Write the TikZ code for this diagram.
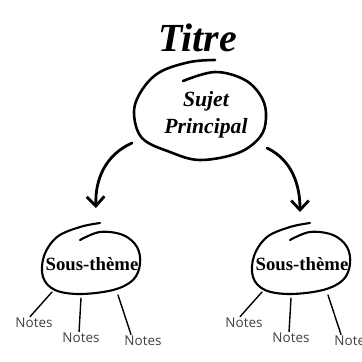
\documentclass[tikz,border=0pt]{standalone}
\usepackage{fontspec}
\setmainfont{Liberation Serif}
\newfontfamily\notesfont{Open Sans}
\usetikzlibrary{calc,arrows.meta}

\tikzset{
  trait/.style={line width=2pt,line cap=round,line join=round},
  fleche/.style={line width=2.4pt,line cap=round,
    -{Straight Barb[length=8pt,width=15pt]}},
  branche/.style={line width=1.2pt,line cap=round},
  note/.style={font=\notesfont\fontsize{11.5}{12}\selectfont,text=black!75,inner sep=0.5pt}
}

\begin{document}
\begin{tikzpicture}[x=0.03cm,y=-0.03cm]
          \fill[white] (0,0) rectangle (362,362);
          \useasboundingbox (0,0) rectangle (362,362);
          % titre et sujet principal
          \node[anchor=base,inner sep=0pt,font=\bfseries\itshape\fontsize{34}{34}\selectfont]
            (titre) at (198,51) {Titre};
          \node[align=center,inner sep=0pt,font=\bfseries\itshape\fontsize{18.5}{23}\selectfont]
            (sujet) at (206,115) {Sujet\\Principal};
          \draw[trait,line width=2.2pt] plot[smooth,tension=0.6] coordinates {(215,60) (190,62) (160,72)
            (142,90) (134,112) (142,138) (170,152) (200,160) (238,153) (260,137)
            (266,118) (262,98) (245,80) (215,72) (183,81)};
          \coordinate (sujet-g) at (132,143);
          \coordinate (sujet-d) at (267,148);
          \coordinate (pointe-g) at (96,208);
          \coordinate (pointe-d) at (300,212);
          \draw[fleche] (sujet-g) .. controls (105,155) and (95,180) .. (pointe-g);
          \draw[fleche] (sujet-d) .. controls (292,160) and (300,185) .. (pointe-d);
          % sous-themes
          \foreach \s/\nm in {0/a,210/b}{
            \node[anchor=base,inner sep=0pt,font=\bfseries\fontsize{16}{16}\selectfont]
              (sous\nm) at (92+\s,270) {Sous-thème};
            \draw[trait,line width=1.8pt] plot[smooth,tension=0.6] coordinates {(100+\s,223)
              (80+\s,227) (57+\s,237) (44+\s,256) (43+\s,277) (55+\s,290) (80+\s,294)
              (113+\s,290) (133+\s,280) (140+\s,264) (137+\s,247) (123+\s,235)
              (100+\s,232) (80+\s,240)};
            \node[note,anchor=base] (n\nm1) at (34+\s,327) {Notes};
            \node[note,anchor=base] (n\nm2) at (81+\s,342) {Notes};
            \node[note,anchor=base] (n\nm3) at (143+\s,345) {Notes};
            \coordinate (e\nm1) at (52+\s,292);
            \coordinate (e\nm2) at (81+\s,298);
            \coordinate (e\nm3) at (118+\s,295);
            \draw[branche] (e\nm1) -- ($(n\nm1.north west)!0.4!(n\nm1.north east)$);
            \draw[branche] (e\nm2) -- ($(n\nm2.north west)!0.45!(n\nm2.north east)$);
            \draw[branche] (e\nm3) -- ($(n\nm3.north west)!0.19!(n\nm3.north east)$);
          }
        \end{tikzpicture}
\end{document}
